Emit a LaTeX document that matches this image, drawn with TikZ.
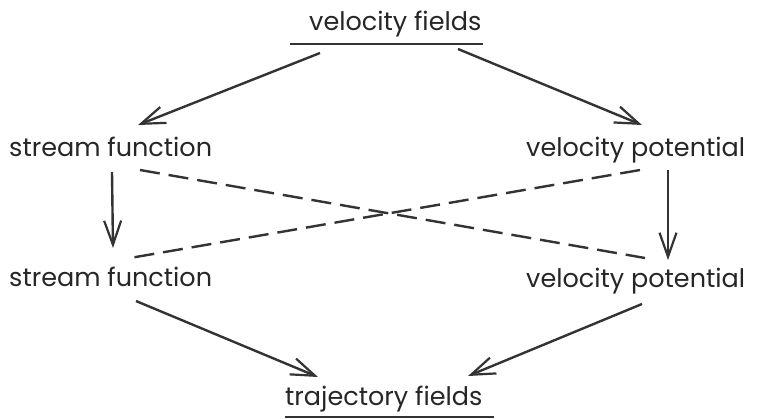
\documentclass[tikz,border=0pt]{standalone}
\usepackage{fontspec}
\setmainfont{Poppins}
\usetikzlibrary{arrows.meta}
\begin{document}
\begin{tikzpicture}[x=1pt,y=-1pt,
  lbl/.style={anchor=base west,inner sep=0pt,font=\fontsize{25.5}{30}\selectfont,text=black!85},
  conn/.style={line width=2.4pt,draw=black!80,-{Straight Barb[length=24pt,width=17pt,line width=2.2pt]}},
  dashconn/.style={line width=2.4pt,draw=black!80,dash pattern=on 20pt off 9pt},
  uline/.style={line width=1.8pt,draw=black!80}]
\useasboundingbox (0,0) rectangle (758,418);
\node[lbl] (vf) at (309,30) {velocity fields};
\node[lbl] (sf1) at (9,156) {stream function};
\node[lbl] (vp1) at (526,156) {velocity potential};
\node[lbl] (sf2) at (9,286) {stream function};
\node[lbl] (vp2) at (526,287) {velocity potential};
\node[lbl] (tf) at (285,405) {trajectory fields};
\coordinate (vfu1) at (290,44);
\coordinate (vfu2) at (483,44);
\coordinate (tfu1) at (285,417);
\coordinate (tfu2) at (494,417);
\coordinate (vfL) at (320,53);
\coordinate (vfR) at (458,49);
\coordinate (sf1in) at (138,125);
\coordinate (vp1in) at (642,125);
\coordinate (sf1out) at (112,172);
\coordinate (sf1dash) at (140,170);
\coordinate (vp1out) at (668,170);
\coordinate (vp1dash) at (640,170);
\coordinate (sf2in) at (113,248);
\coordinate (sf2dash) at (130,258);
\coordinate (vp2in) at (668,260);
\coordinate (vp2dash) at (645,258);
\coordinate (sf2out) at (136,301);
\coordinate (vp2out) at (642,304);
\coordinate (tfL) at (318,377);
\coordinate (tfR) at (468,376);
\draw[uline] (vfu1) -- (vfu2);
\draw[uline] (tfu1) -- (tfu2);
\draw[conn] (vfL) -- (sf1in);
\draw[conn] (vfR) -- (vp1in);
\draw[conn] (sf1out) -- (sf2in);
\draw[conn] (vp1out) -- (vp2in);
\draw[dashconn] (sf1dash) -- (vp2dash);
\draw[dashconn] (vp1dash) -- (sf2dash);
\draw[conn] (sf2out) -- (tfL);
\draw[conn] (vp2out) -- (tfR);
\end{tikzpicture}
\end{document}
